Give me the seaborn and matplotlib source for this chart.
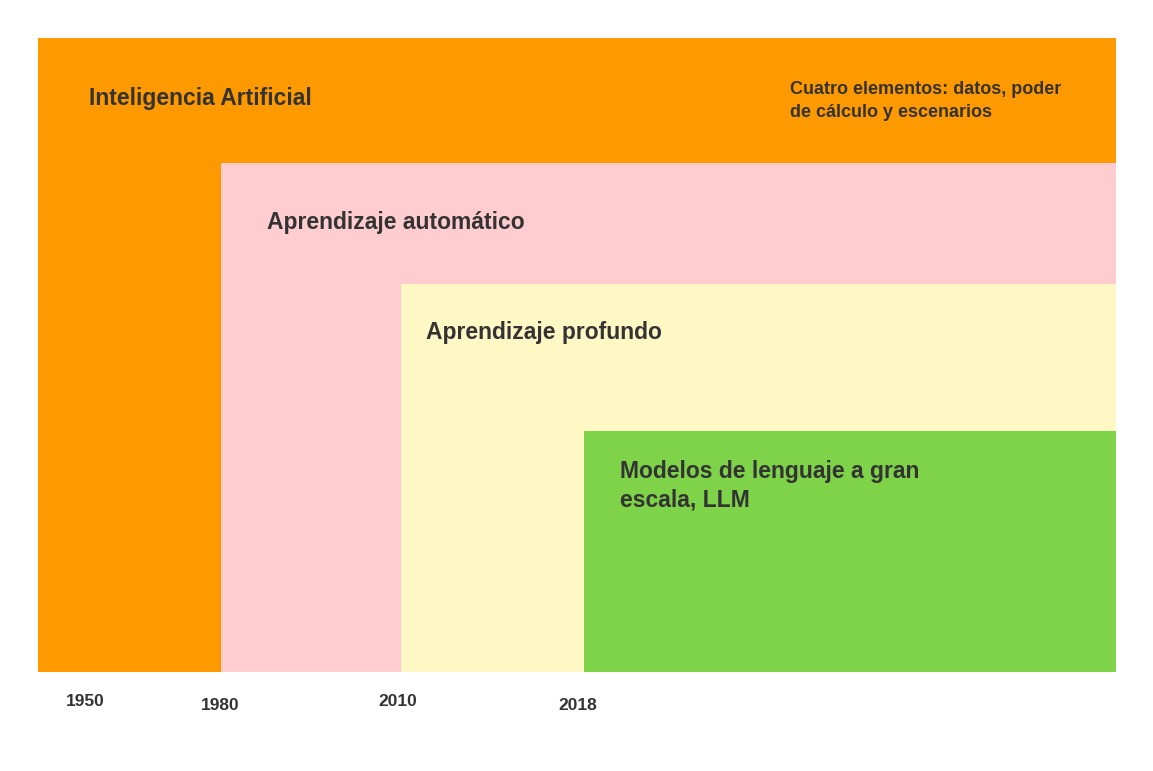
import matplotlib
matplotlib.use("Agg")
import matplotlib.pyplot as plt
import seaborn as sns

sns.set_theme(style="white")
plt.rcParams['font.family'] = ['Liberation Sans', 'DejaVu Sans']

labels = ["Inteligencia Artificial", "Aprendizaje automático", "Aprendizaje profundo",
          "Modelos de lenguaje a gran\nescala, LLM"]
lefts = [38, 221, 401, 584]
tops = [38, 163, 284, 431]
right = 1116
bottom = 672
colors = ["#FF9900", "#FFCCD0", "#FFF8C4", "#7ED348"]
label_pos = [(89, 98), (267, 222), (426, 333), (620, 486)]
years = ["1950", "1980", "2010", "2018"]
year_pos = [(85, 702), (220, 705), (398, 702), (578, 705)]
note = "Cuatro elementos: datos, poder\nde cálculo y escenarios"

fig = plt.figure(figsize=(11.53, 7.71), dpi=100)
ax = fig.add_axes([0, 0, 1, 1])
ax.set_xlim(0, 1153)
ax.set_ylim(771, 0)
ax.axis("off")

for l, t, c in zip(lefts, tops, colors):
    ax.bar(l, bottom - t, width=right - l, bottom=t, align="edge", color=c, linewidth=0)

for lab, (x, y) in zip(labels, label_pos):
    ax.text(x, y, lab, fontsize=16.5, fontweight="bold", color="#333333",
            va="center", ha="left", linespacing=1.3)

ax.text(790, 101, note, fontsize=13, fontweight="bold", color="#333333",
        va="center", ha="left", linespacing=1.4)

for yr, (x, y) in zip(years, year_pos):
    ax.text(x, y, yr, fontsize=12.5, fontweight="bold", color="#333333",
            va="center", ha="center")

fig.savefig("out.png", dpi=100)
